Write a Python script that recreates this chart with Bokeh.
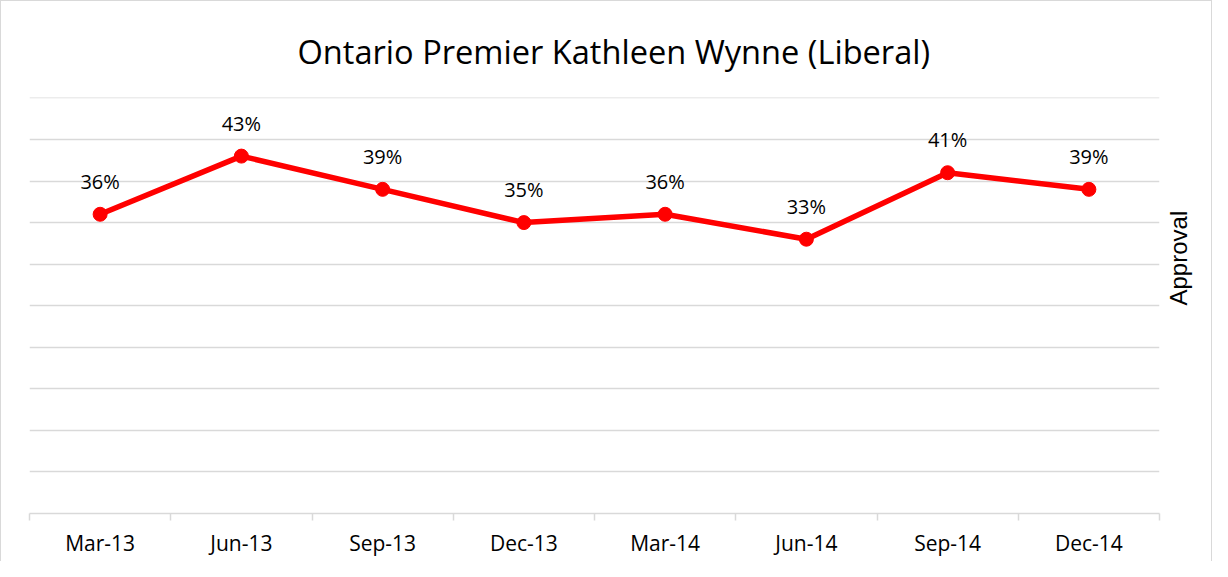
import math
import numpy as np
from bokeh.plotting import figure
from bokeh.models import ColumnDataSource, FixedTicker, LinearAxis, Range1d
from bokeh.core.properties import value
from bokeh.embed import file_html
from bokeh.resources import INLINE

# ---- data ----
months = ["Mar-13", "Jun-13", "Sep-13", "Dec-13", "Mar-14", "Jun-14", "Sep-14", "Dec-14"]
approval = [36, 43, 39, 35, 36, 33, 41, 39]
y_ticks = [0, 5, 10, 15, 20, 25, 30, 35, 40, 45, 50]

x_pos = np.arange(len(months)) + 0.5
src = ColumnDataSource(dict(x=x_pos, y=approval, lab=[f"{v}%" for v in approval]))

GRID = "#d9d9d9"
RED = "#ff0000"

p = figure(width=1212, height=561, output_backend="svg", toolbar_location=None,
           x_range=Range1d(0, len(months)), y_range=Range1d(0, 50.05),
           y_axis_location=None, x_axis_location=None,
           min_border_left=28, min_border_right=54, min_border_top=96, min_border_bottom=49)
p.styles = {"border-top": "1.5px solid #d9d9d9", "border-left": "1.5px solid #d9d9d9",
            "border-right": "1.5px solid #d9d9d9"}
p.outline_line_color = None
p.background_fill_color = "white"
p.border_fill_color = "white"

p.title.text = "Ontario Premier Kathleen Wynne (Liberal)"
p.title.text_font = "Open Sans"
p.title.text_font_size = "32.6px"
p.title.text_font_style = "normal"
p.title.text_color = "#000000"
p.title.align = "left"
p.title.offset = 268
p.title.standoff = 48

# x axis
xaxis = LinearAxis(ticker=FixedTicker(ticks=list(x_pos), minor_ticks=list(range(len(months) + 1))),
                   major_label_overrides={float(x): m for x, m in zip(x_pos, months)})
xaxis.axis_line_color = GRID
xaxis.axis_line_width = 1.5
xaxis.major_tick_line_color = None
xaxis.major_tick_out = 0
xaxis.major_tick_in = 0
xaxis.minor_tick_line_color = GRID
xaxis.minor_tick_line_width = 1.5
xaxis.minor_tick_out = 7
xaxis.minor_tick_in = 0
xaxis.major_label_standoff = 8
xaxis.major_label_text_font = "Open Sans"
xaxis.major_label_text_font_size = "21px"
xaxis.major_label_text_color = "#000000"
p.add_layout(xaxis, "below")

# y axis on right (title only; grid carries the ticks)
yaxis = LinearAxis(ticker=FixedTicker(ticks=[]), axis_label="Approval")
yaxis.axis_line_color = None
yaxis.major_tick_line_color = None
yaxis.minor_tick_line_color = None
yaxis.major_label_standoff = 0
yaxis.axis_label_standoff = 19
yaxis.axis_label_text_font = "Liberation Sans"
yaxis.axis_label_text_font_size = "24px"
yaxis.axis_label_text_font_style = "normal"
yaxis.axis_label_text_color = "#000000"
yaxis.axis_label_orientation = math.pi / 2
p.add_layout(yaxis, "right")

p.xgrid.visible = False
p.ygrid.grid_line_color = GRID
p.ygrid.grid_line_width = 1.5
p.ygrid.ticker = FixedTicker(ticks=y_ticks)

p.line("x", "y", source=src, line_color=RED, line_width=5.5)
p.scatter("x", "y", source=src, size=14, fill_color=RED, line_color=RED)
p.text("x", "y", text="lab", source=src, y_offset=-33, text_align="center",
       text_baseline="middle", text_font=value("Open Sans"), text_font_size="20px",
       text_color="#000000")

open("out.html", "w").write(file_html(p, INLINE))
